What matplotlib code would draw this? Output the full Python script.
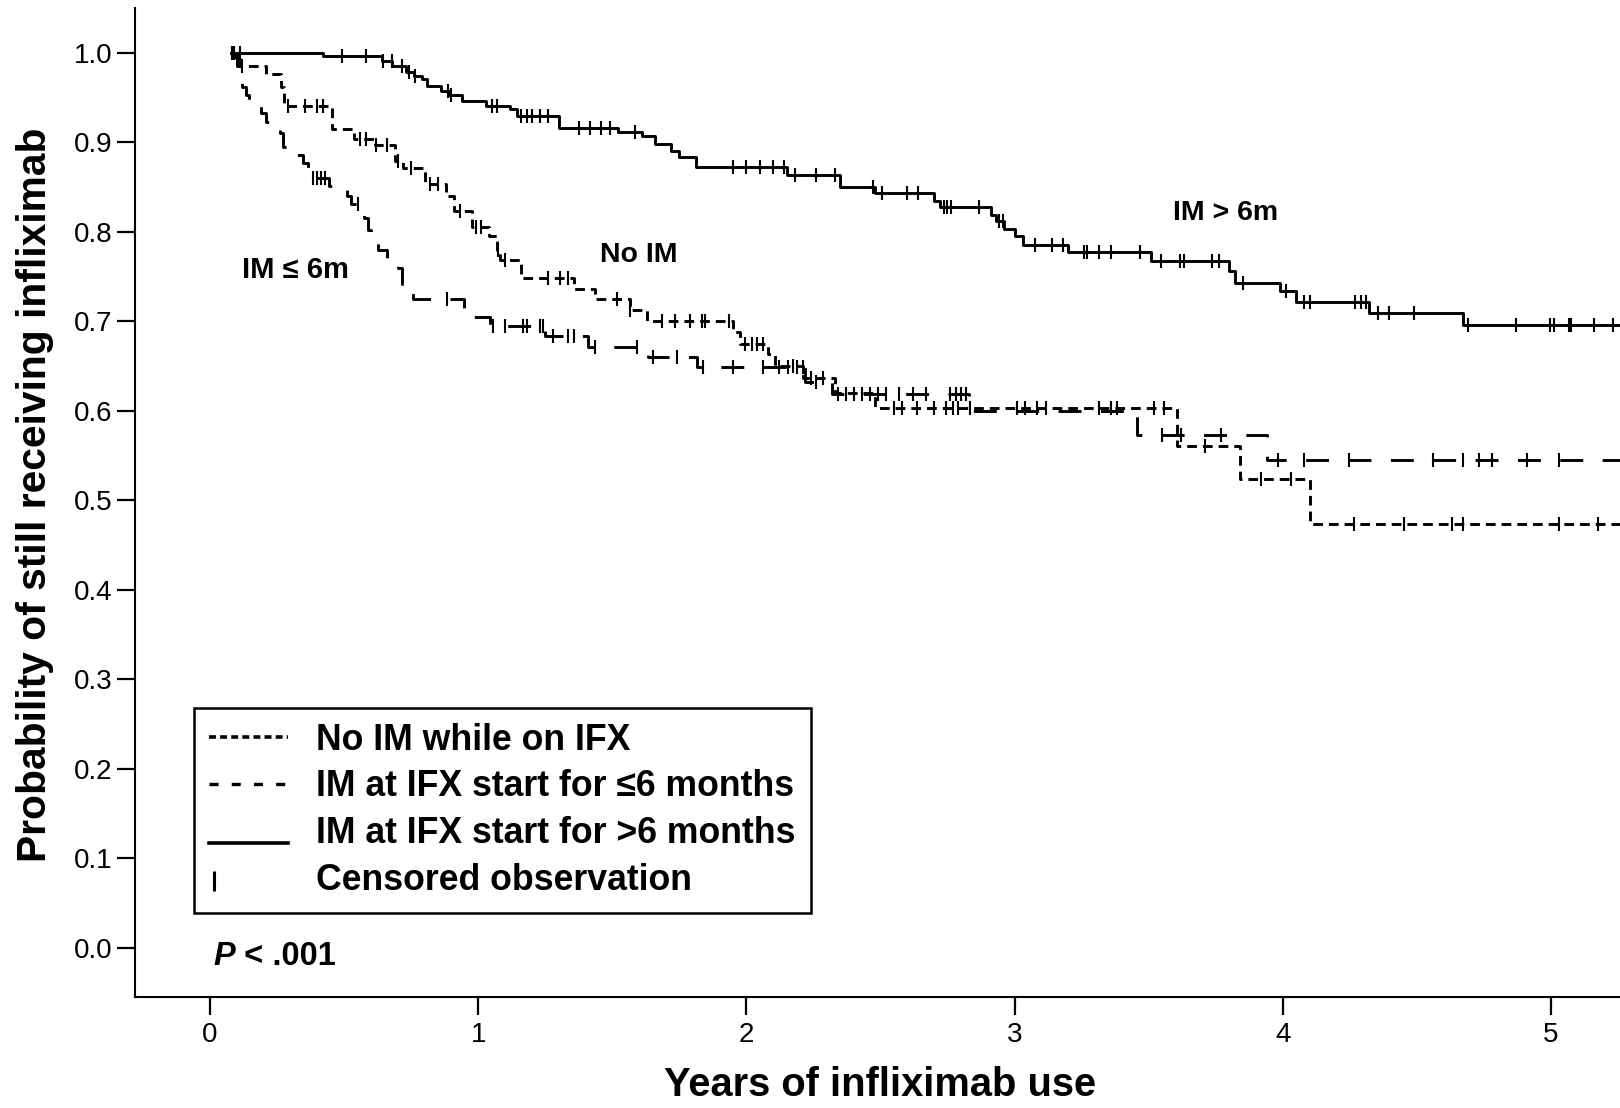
import numpy as np
import matplotlib; matplotlib.use("Agg")
import matplotlib.pyplot as plt
from matplotlib.lines import Line2D
from matplotlib.legend_handler import HandlerLine2D

plt.rcParams['font.family'] = ['Liberation Sans', 'DejaVu Sans']
plt.rcParams['lines.scale_dashes'] = False

# Kaplan-Meier steps: time (years) of each drop and survival after it
noim_t = [0.075, 0.09, 0.11, 0.21, 0.265, 0.275, 0.455, 0.535, 0.615, 0.69, 0.72, 0.80, 0.88, 0.91,
          0.975, 1.04, 1.07, 1.08, 1.16, 1.358, 1.435, 1.566, 1.628, 1.951, 1.976, 2.08, 2.107,
          2.21, 2.33, 2.48, 3.604, 3.84, 4.10]
noim_s = [1.0, 0.993, 0.985, 0.976, 0.961, 0.940, 0.915, 0.903, 0.897, 0.879, 0.871, 0.853, 0.840, 0.823,
          0.805, 0.795, 0.780, 0.768, 0.748, 0.736, 0.725, 0.713, 0.700, 0.688, 0.675, 0.663, 0.650,
          0.636, 0.620, 0.603, 0.561, 0.524, 0.474]
noim_cens = [0.08, 0.10, 0.12, 0.29, 0.355, 0.40, 0.42, 0.56, 0.58, 0.62, 0.66, 0.70, 0.75, 0.82, 0.85,
             0.93, 0.99, 1.01, 1.075, 1.10, 1.26, 1.305, 1.335, 1.517, 1.566, 1.684, 1.734, 1.79, 1.833,
             1.845, 1.933, 1.995, 2.02, 2.04, 2.06, 2.175, 2.24, 2.285, 2.55, 2.58, 2.636, 2.70, 2.745,
             2.77, 2.79, 2.834, 3.01, 3.04, 3.085, 3.117, 3.315, 3.36, 3.38, 3.52, 3.555, 3.71, 3.92,
             4.03, 4.266, 4.45, 4.63, 4.67, 5.03, 5.175]

im6_t = [0.075, 0.10, 0.11, 0.12, 0.135, 0.145, 0.19, 0.21, 0.26, 0.27, 0.31, 0.345, 0.365, 0.375, 0.445,
         0.51, 0.525, 0.555, 0.575, 0.59, 0.60, 0.625, 0.66, 0.70, 0.715, 0.755, 0.945, 1.044, 1.249,
         1.41, 1.633, 1.814, 2.22, 2.32, 2.83, 3.455, 3.94]
im6_s = [1.0, 0.985, 0.975, 0.962, 0.952, 0.943, 0.933, 0.922, 0.910, 0.895, 0.885, 0.877, 0.868, 0.860,
         0.851, 0.840, 0.831, 0.824, 0.815, 0.802, 0.790, 0.780, 0.770, 0.759, 0.742, 0.725, 0.705,
         0.695, 0.683, 0.671, 0.660, 0.649, 0.632, 0.619, 0.600, 0.573, 0.545]
im6_cens = [0.08, 0.09, 0.385, 0.40, 0.415, 0.43, 0.55, 0.883, 1.056, 1.10, 1.168, 1.18, 1.23, 1.242,
            1.28, 1.335, 1.355, 1.435, 1.59, 1.65, 1.74, 1.838, 1.95, 2.06, 2.12, 2.155, 2.19, 2.21,
            2.26, 2.34, 2.37, 2.40, 2.43, 2.46, 2.49, 2.52, 2.57, 2.62, 2.67, 2.76, 2.78, 2.80, 2.82,
            3.55, 3.62, 3.77, 3.98, 4.08, 4.245, 4.56, 4.67, 4.73, 4.78, 4.91, 5.03]

imlong_t = [0.075, 0.42, 0.64, 0.68, 0.73, 0.76, 0.79, 0.81, 0.86, 0.89, 0.94, 1.03, 1.12, 1.145, 1.30,
            1.52, 1.61, 1.66, 1.72, 1.75, 1.81, 2.15, 2.35, 2.48, 2.70, 2.72, 2.91, 2.93, 2.96, 3.00,
            3.03, 3.20, 3.51, 3.80, 3.82, 3.99, 4.05, 4.32, 4.67]
imlong_s = [1.0, 0.996, 0.990, 0.985, 0.978, 0.974, 0.970, 0.963, 0.957, 0.952, 0.946, 0.940, 0.937,
            0.929, 0.916, 0.911, 0.907, 0.898, 0.890, 0.883, 0.872, 0.863, 0.850, 0.843, 0.834, 0.827,
            0.818, 0.812, 0.803, 0.795, 0.785, 0.777, 0.767, 0.756, 0.743, 0.734, 0.721, 0.709, 0.696]
imlong_cens = [0.09, 0.11, 0.49, 0.58, 0.646, 0.677, 0.715, 0.74, 0.765, 0.888, 0.90, 1.05, 1.07, 1.16,
               1.18, 1.20, 1.23, 1.26, 1.375, 1.416, 1.458, 1.492, 1.583, 1.949, 1.999, 2.05, 2.10,
               2.14, 2.18, 2.26, 2.33, 2.473, 2.505, 2.597, 2.64, 2.735, 2.746, 2.763, 2.866, 2.94,
               2.955, 3.074, 3.14, 3.18, 3.26, 3.27, 3.315, 3.36, 3.467, 3.545, 3.617, 3.632, 3.735,
               3.763, 3.85, 4.01, 4.08, 4.10, 4.27, 4.29, 4.31, 4.353, 4.397, 4.49, 4.69, 4.868, 4.996,
               5.01, 5.065, 5.076, 5.16, 5.23]
t_end = 5.4

legend_labels = ["No IM while on IFX", "IM at IFX start for \u22646 months",
                 "IM at IFX start for >6 months", "Censored observation"]

LW = 2.1
fine = (0, (7.0, 4.3))
longd = (0, (16.5, 14.0))

def km(ax, t, s, cens, ls):
    t = np.array(t + [t_end]); s = np.array(s + [s[-1]])
    ax.step(t, s, where="post", color="k", lw=LW, ls=ls, solid_capstyle="butt")
    c = np.array(cens)
    cs = s[np.searchsorted(t, c, side="right") - 1]
    ax.plot(c, cs, ls="none", marker="|", ms=10, mew=1.5, color="k")

fig = plt.figure(figsize=(16.2, 11.08), dpi=100)
ax = fig.add_axes([135/1620, 1-997/1108, (1620-135)/1620, (997-8)/1108])

km(ax, noim_t, noim_s, noim_cens, fine)
km(ax, im6_t, im6_s, im6_cens, longd)
km(ax, imlong_t, imlong_s, imlong_cens, "-")

ax.set_xlim(-0.28, 5.257)
ax.set_ylim(-0.0547, 1.0497)
ax.set_xticks(range(0, 6))
ax.set_yticks(np.arange(0, 1.01, 0.1))
ax.set_yticklabels([f"{v:.1f}" for v in np.arange(0, 1.01, 0.1)])
for sp in ["top", "right"]:
    ax.spines[sp].set_visible(False)
for sp in ["left", "bottom"]:
    ax.spines[sp].set_linewidth(1.5)
ax.tick_params(axis="both", direction="out", length=13, width=1.6, labelsize=20)
ax.tick_params(axis="y", pad=3)
ax.tick_params(axis="x", pad=5)

ax.set_xlabel("Years of infliximab use", fontsize=28.7, fontweight="bold", va="center")
ax.xaxis.set_label_coords(0.5017, -0.089)
ax.set_ylabel("Probability of still receiving infliximab", fontsize=29.3, fontweight="bold",
              va="center")
ax.yaxis.set_label_coords(-0.0673, 0.508)

ax.text(0.318, 0.757, "IM \u2264 6m", fontsize=21, fontweight="bold", ha="center", va="center")
ax.text(1.60, 0.774, "No IM", fontsize=20.5, fontweight="bold", ha="center", va="center")
ax.text(3.785, 0.821, "IM > 6m", fontsize=20.5, fontweight="bold", ha="center", va="center")

p = ax.text(0.013, -0.0095, "P", fontsize=23.5, fontweight="bold", fontstyle="italic",
            ha="left", va="center")
ax.annotate(" < .001", xy=(1, 0), xycoords=p, fontsize=23.5, fontweight="bold",
            ha="left", va="bottom")

class LeftMark(HandlerLine2D):
    def create_artists(self, legend, orig_handle, xdescent, ydescent, width, height, fontsize, trans):
        arts = super().create_artists(legend, orig_handle, xdescent, ydescent, width, height,
                                      fontsize, trans)
        for a in arts:
            n = len(a.get_xdata())
            a.set_xdata(np.full(n, -xdescent + 0.06 * width))
            a.set_ydata(np.asarray(a.get_ydata()) - 0.15 * height)
        return arts

class Lowered(HandlerLine2D):
    def create_artists(self, legend, orig_handle, xdescent, ydescent, width, height, fontsize, trans):
        arts = super().create_artists(legend, orig_handle, xdescent, ydescent, width, height,
                                      fontsize, trans)
        for a in arts:
            a.set_ydata(np.asarray(a.get_ydata()) - 0.5 * height)
        return arts

h1 = Line2D([], [], color="k", lw=2.6, ls=(0, (5.0, 3.0)))
h2 = Line2D([], [], color="k", lw=2.4, ls=(0, (6.5, 9.5)))
h3 = Line2D([], [], color="k", lw=2.6)
h4 = Line2D([], [], color="k", ls="none", marker="|", ms=14, mew=2.2)
leg = ax.legend([h1, h2, h3, h4], legend_labels, loc="lower left",
                bbox_to_anchor=(0.0397, 0.0849), borderaxespad=0,
                prop={"size": 25.7, "weight": "bold"}, frameon=True, fancybox=False,
                edgecolor="k", framealpha=1, borderpad=0.42, labelspacing=0.33,
                handlelength=2.21, handletextpad=0.8,
                handler_map={h3: Lowered(), h4: LeftMark(numpoints=1)})
leg.get_frame().set_linewidth(1.8)

fig.savefig("out.png", dpi=100)
